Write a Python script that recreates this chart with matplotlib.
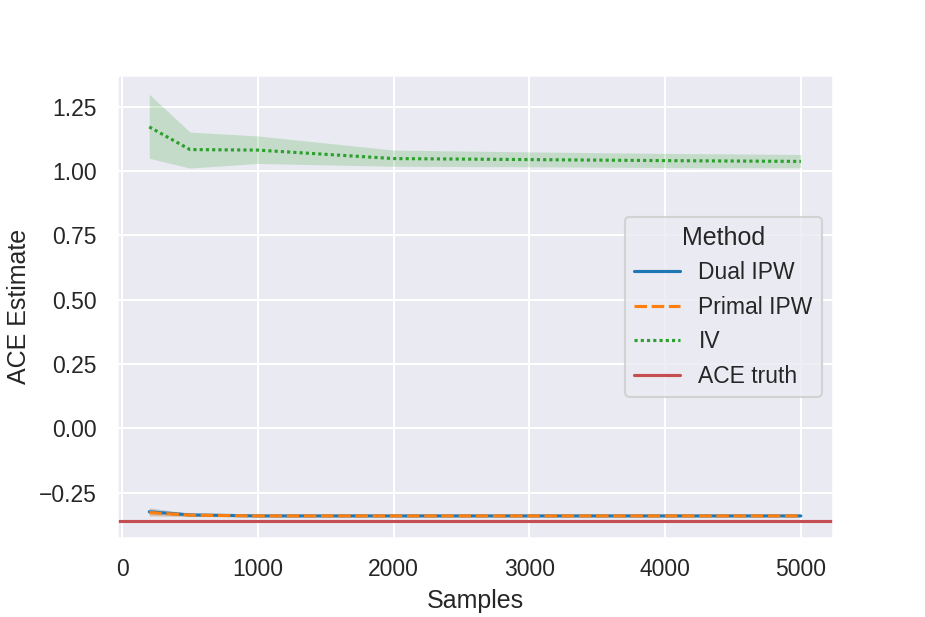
import numpy as np
import matplotlib
matplotlib.use("Agg")
import matplotlib.pyplot as plt
from matplotlib.ticker import MultipleLocator
import seaborn as sns

sns.set_theme(style="darkgrid", context="notebook", color_codes=True)
plt.rcParams['font.family'] = ['Liberation Sans', 'DejaVu Sans']

# values
samples = [200, 500, 1000, 2000, 3000, 4000, 5000]

dual_mean = [-0.325, -0.337, -0.341, -0.341, -0.341, -0.341, -0.341]
dual_lo = [-0.340, -0.343, -0.344, -0.344, -0.344, -0.344, -0.344]
dual_hi = [-0.309, -0.332, -0.338, -0.338, -0.338, -0.338, -0.338]

primal_mean = [-0.328, -0.338, -0.341, -0.341, -0.341, -0.341, -0.341]
primal_lo = [-0.342, -0.344, -0.344, -0.344, -0.344, -0.344, -0.344]
primal_hi = [-0.312, -0.332, -0.338, -0.338, -0.338, -0.338, -0.338]

iv_mean = [1.172, 1.084, 1.082, 1.049, 1.045, 1.041, 1.038]
iv_lo = [1.050, 1.012, 1.030, 1.019, 1.017, 1.014, 1.013]
iv_hi = [1.299, 1.152, 1.137, 1.082, 1.075, 1.069, 1.065]

ace_truth = -0.36

fig, ax = plt.subplots(figsize=(926 / 150, 617 / 150), dpi=150)
fig.subplots_adjust(left=0.126, right=0.9, bottom=0.128, top=0.878)

ax.fill_between(samples, dual_lo, dual_hi, color='tab:blue', alpha=0.2, linewidth=0)
ax.plot(samples, dual_mean, color='tab:blue', lw=1.5, label='Dual IPW')
ax.fill_between(samples, primal_lo, primal_hi, color='tab:orange', alpha=0.2, linewidth=0)
ax.plot(samples, primal_mean, color='tab:orange', lw=1.5, dashes=(4, 1.5), label='Primal IPW')
ax.fill_between(samples, iv_lo, iv_hi, color='tab:green', alpha=0.2, linewidth=0)
ax.plot(samples, iv_mean, color='tab:green', lw=1.5, dashes=(1, 1), label='IV')
ax.axhline(ace_truth, color='r', lw=1.5, label='ACE truth')

ax.set_ylim(-0.427, 1.373)
ax.yaxis.set_major_locator(MultipleLocator(0.25))
ax.set_xlabel('Samples')
ax.set_ylabel('ACE Estimate')
ax.legend(title='Method', loc='center right')

plt.savefig('out.png', dpi=150)
